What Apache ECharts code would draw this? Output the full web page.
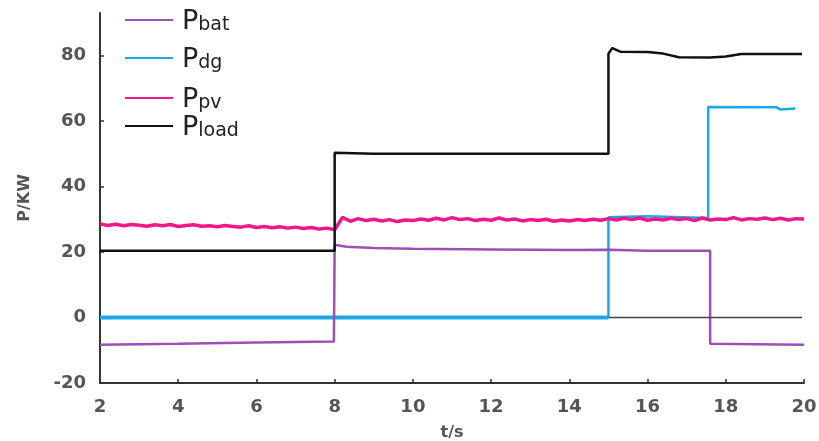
<!DOCTYPE html>
<html>
<head>
<meta charset="utf-8">
<script src="https://cdn.jsdelivr.net/npm/echarts@6/dist/echarts.min.js"></script>
<style>
  html, body { margin: 0; padding: 0; background: #fff; }
  #main { width: 819px; height: 441px; }
</style>
</head>
<body>
<div id="main"></div>
<script>
// axis ticks
const xTicks = [2, 4, 6, 8, 10, 12, 14, 16, 18, 20];
const yTicks = [-20, 0, 20, 40, 60, 80];

// Pbat, [t, P]
const pbat = [
  [2, -8.3], [4, -8.0], [6, -7.6], [7.98, -7.3], [8, -7.3], [8, 22.2], [8.3, 21.6],
  [9, 21.2], [10, 21.0], [12, 20.8], [14, 20.6], [15, 20.7], [16, 20.4],
  [17.6, 20.4], [17.6, -8.0], [20, -8.3]
];

// Pdg, zero part (thick) and the rest
const pdgZero = [[2, 0], [15, 0]];
const pdg = [
  [15, 0], [15, 30.6], [16, 30.9], [17.55, 30.4], [17.55, 64.3],
  [19.3, 64.2], [19.4, 63.5], [19.78, 63.8]
];

// Ppv, sampled every 0.2 s from 2 s
const pvStart = 2;
const pvStep = 0.2;
const ppv = [
  28.6, 28.1, 28.5, 28.0, 28.4, 28.2, 27.9, 28.3, 28.0, 28.4,
  27.8, 28.1, 28.3, 27.9, 28.0, 27.7, 28.1, 27.8, 27.6, 28.0,
  27.5, 27.8, 27.4, 27.7, 27.3, 27.6, 27.2, 27.5, 27.0, 27.3, 26.8,
  30.6, 29.4, 30.2, 29.6, 30.0, 29.5, 29.9, 29.3, 29.8, 29.6,
  30.1, 29.7, 30.3, 29.8, 30.5, 29.9, 30.2, 29.6, 30.0, 29.7,
  30.4, 29.8, 30.1, 29.5, 29.9, 29.6, 30.0, 29.4, 29.8, 29.5,
  29.9, 29.6, 30.0, 29.7, 30.2, 29.8, 30.3, 29.9, 30.4, 29.7,
  30.1, 29.8, 30.3, 29.9, 30.2, 29.6, 30.4, 29.8, 30.1, 29.9,
  30.5, 29.8, 30.2, 30.0, 30.4, 29.9, 30.3, 29.8, 30.2, 30.1
];

// Pload
const pload = [
  [2, 20.4], [8, 20.4], [8, 50.3], [9, 50.0], [15, 50.0], [15, 80.6], [15.1, 82.3],
  [15.3, 81.2], [16, 81.1], [16.4, 80.6], [16.8, 79.5], [17.6, 79.4], [18.0, 79.7],
  [18.4, 80.5], [19.95, 80.5]
];

// thin zero line after 15 s
const zeroLine = [[15, 0], [19.95, 0]];

const pvData = ppv.map((v, i) => [+(pvStart + i * pvStep).toFixed(2), v]);

const font = 'DejaVu Sans, Arial, sans-serif';
const colors = { bat: '#9c4fb6', dg: '#1ca8e6', pv: '#f0168c', load: '#111111' };

function legendAt(name, top) {
  return {
    data: [name],
    left: 125,
    top: top,
    padding: 0,
    orient: 'vertical',
    itemWidth: 48,
    itemHeight: 10,
    icon: 'path://M0,4 L48,4 L48,6 L0,6 Z',
    formatter: n => '{p|P}{s|' + n.slice(1) + '}',
    textStyle: {
      color: '#222',
      fontFamily: font,
      rich: {
        p: { fontSize: 27, fontFamily: font, color: '#222', lineHeight: 30, padding: [0, 0, 0, 4], verticalAlign: 'bottom' },
        s: { fontSize: 19, fontFamily: font, color: '#222', lineHeight: 30, verticalAlign: 'bottom' }
      }
    }
  };
}

var myChart = echarts.init(document.getElementById('main'));
var option = {
  animation: false,
  backgroundColor: '#fff',
  grid: { left: 100, right: 15, top: 13, bottom: 58, containLabel: false, outerBoundsMode: 'none' },
  legend: [
    legendAt('Pbat', 8),
    legendAt('Pdg', 46),
    legendAt('Ppv', 86),
    legendAt('Pload', 114)
  ],
  xAxis: {
    type: 'value',
    min: 2,
    max: 20,
    interval: 2,
    name: 't/s',
    nameLocation: 'middle',
    nameGap: 42,
    nameTextStyle: { fontFamily: font, fontSize: 16, fontWeight: 'bold', color: '#555' },
    axisLine: { onZero: false, lineStyle: { color: '#333', width: 2 } },
    axisTick: { inside: true, length: 4, customValues: xTicks, lineStyle: { color: '#333', width: 1.5 } },
    axisLabel: { fontFamily: font, fontSize: 18, fontWeight: 'bold', color: '#555', margin: 15, customValues: xTicks },
    splitLine: { show: false }
  },
  yAxis: {
    type: 'value',
    min: -20,
    max: 93,
    interval: 20,
    name: 'P/KW',
    nameLocation: 'middle',
    nameGap: 67,
    nameTextStyle: { fontFamily: font, fontSize: 16, fontWeight: 'bold', color: '#555' },
    axisLine: { show: true, onZero: false, lineStyle: { color: '#333', width: 2 } },
    axisTick: { show: true, inside: true, length: 4, customValues: yTicks, lineStyle: { color: '#333', width: 1.5 } },
    axisLabel: { fontFamily: font, fontSize: 18, fontWeight: 'bold', color: '#555', margin: 14, customValues: yTicks },
    splitLine: { show: false }
  },
  series: [
    {
      name: 'Pdg', type: 'line', data: pdgZero, symbol: 'none',
      lineStyle: { color: colors.dg, width: 4 }, itemStyle: { color: colors.dg }
    },
    {
      name: 'Pdg', type: 'line', data: pdg, symbol: 'none',
      lineStyle: { color: colors.dg, width: 2.5 }, itemStyle: { color: colors.dg }
    },
    {
      name: 'Pbat', type: 'line', data: pbat, symbol: 'none',
      lineStyle: { color: colors.bat, width: 2.5 }, itemStyle: { color: colors.bat }
    },
    {
      name: 'zero', type: 'line', data: zeroLine, symbol: 'none',
      lineStyle: { color: '#444', width: 1.3 }
    },
    {
      name: 'Ppv', type: 'line', data: pvData, symbol: 'none',
      lineStyle: { color: colors.pv, width: 3.5 }, itemStyle: { color: colors.pv }
    },
    {
      name: 'Pload', type: 'line', data: pload, symbol: 'none',
      lineStyle: { color: colors.load, width: 2.5 }, itemStyle: { color: colors.load }
    }
  ]
};
myChart.setOption(option);
</script>
</body>
</html>
